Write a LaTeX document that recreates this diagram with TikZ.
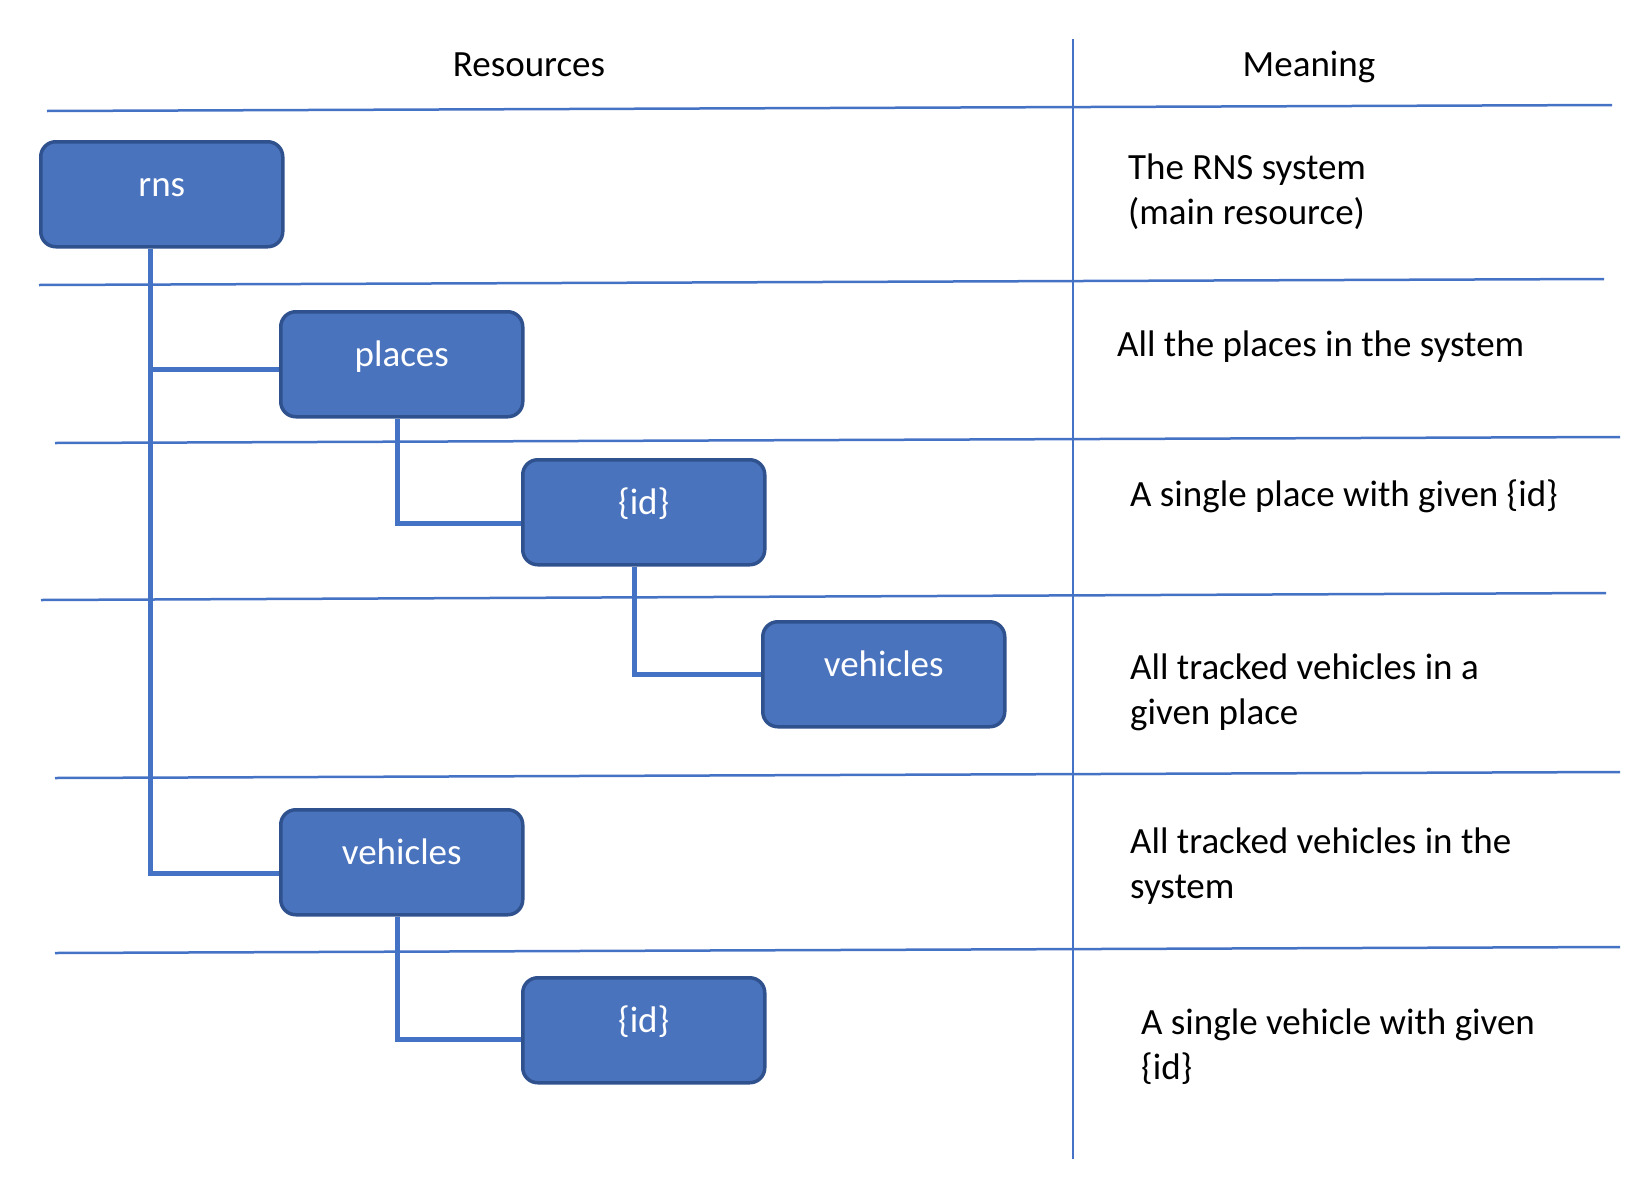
\documentclass[tikz,border=0pt]{standalone}
\usepackage{fontspec}
\setmainfont{Carlito}
\definecolor{boxfill}{HTML}{4A73BE}
\definecolor{boxedge}{HTML}{2F528F}
\definecolor{connblue}{HTML}{4472C4}
\definecolor{ruleblue}{HTML}{4472C4}
\pgfdeclarelayer{bg}
\pgfsetlayers{bg,main}
\begin{document}
\begin{tikzpicture}[x=1pt,y=-1pt,
  rbox/.style={draw=boxedge, fill=boxfill, line width=3.5pt, rounded corners=15pt,
    minimum width=242pt, inner sep=0pt, text height=54.5pt, text depth=50.5pt,
    text=white, font=\fontsize{37}{45}\selectfont, anchor=north west},
  conn/.style={draw=connblue, line width=5pt},
  tablerule/.style={draw=ruleblue, line width=2.5pt},
  meaning/.style={anchor=base west, align=left, inner sep=0pt, text=black,
    font=\fontsize{37}{45}\selectfont},
  header/.style={anchor=base, inner sep=0pt, text=black, font=\fontsize{37}{45}\selectfont}
]
\useasboundingbox (0,0) rectangle (1644,1202);

% table rules
\draw[tablerule] (1073,39) -- (1073,1159);
\draw[tablerule] (47,111) -- (1612,105);
\draw[tablerule] (39,285) -- (1604,279);
\draw[tablerule] (55,443) -- (1620,437);
\draw[tablerule] (41,600) -- (1606,593);
\draw[tablerule] (55,778) -- (1620,772);
\draw[tablerule] (55,953) -- (1620,947);

% headers
\node[header] (hres) at (529,76) {Resources};
\node[header] (hmean) at (1309,76) {Meaning};

% boxes
\node[rbox] (rns) at (39,140) {rns};
\node[rbox] (places) at (279,310) {places};
\node[rbox] (pid) at (521,458) {\{id\}};
\node[rbox] (pveh) at (761,620) {vehicles};
\node[rbox] (veh) at (279,808) {vehicles};
\node[rbox] (vid) at (521,976) {\{id\}};

% connectors
\begin{pgfonlayer}{bg}
\draw[conn] ([xshift=-11pt]rns.south) |- ([yshift=-5.5pt]places.west);
\draw[conn] ([xshift=-11pt]rns.south) |- ([yshift=-11.5pt]veh.west);
\draw[conn] ([xshift=-4pt]places.south) |- ([yshift=-11.5pt]pid.west);
\draw[conn] ([xshift=-9pt]pid.south) |- (pveh.west);
\draw[conn] ([xshift=-4pt]veh.south) |- ([yshift=-9.5pt]vid.west);
\end{pgfonlayer}

% meanings (base anchor = last line baseline)
\node[meaning] (m1) at (1128,224) {The RNS system\\(main resource)};
\node[meaning] (m2) at (1117,356) {All the places in the system};
\node[meaning] (m3) at (1130,506) {A single place with given \{id\}};
\node[meaning] (m4) at (1130,724) {All tracked vehicles in a\\given place};
\node[meaning] (m5) at (1130,898) {All tracked vehicles in the\\system};
\node[meaning] (m6) at (1141,1079) {A single vehicle with given\\\{id\}};
\end{tikzpicture}
\end{document}
